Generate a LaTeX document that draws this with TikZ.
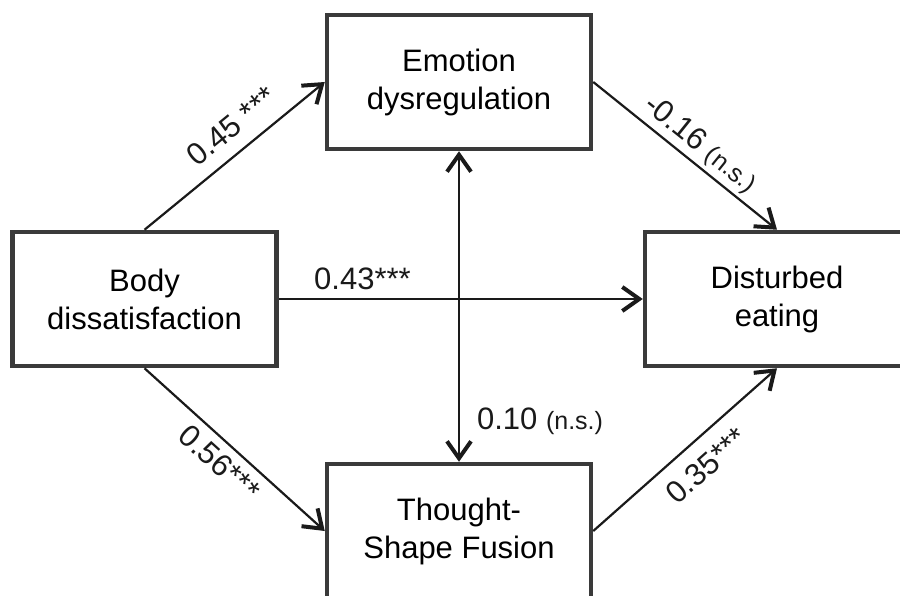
\documentclass[tikz,border=0pt]{standalone}
\usepackage{fontspec}
\setmainfont{Liberation Sans}
\usetikzlibrary{arrows.meta}
\definecolor{boxgray}{HTML}{3A3A3A}
\definecolor{arrblack}{HTML}{1A1A1A}
\newcommand\nslab{{\fontsize{25}{30}\selectfont(n.s.)}}
\begin{document}
\begin{tikzpicture}[x=1pt,y=-1pt,
  box/.style={draw=boxgray, line width=4.5pt, fill=white, minimum width=264pt, minimum height=134pt,
    align=center, font=\fontsize{31}{38}\selectfont, inner sep=0pt},
  tipv/.tip={Straight Barb[length=17pt,width=24pt,line width=4pt]},
  arr/.style={line width=2.2pt, draw=arrblack, -tipv},
  dbl/.style={line width=2.2pt, draw=arrblack, tipv-tipv},
  lab/.style={font=\fontsize{31}{38}\selectfont, inner sep=0pt, text=arrblack}]
\clip (0,0) rectangle (900,596);
\fill[white] (0,0) rectangle (900,596);

\node[box] (emo)  at (459,82)    {Emotion\\dysregulation};
\node[box] (body) at (144.5,299) {Body\\dissatisfaction};
\node[box] (dist) at (777,299)   {Disturbed\\eating};
\node[box] (tsf)  at (459,531)   {Thought-\\Shape Fusion};

\draw[arr] (body.north) -- (emo.west)
  node[lab, pos=0.57, sloped, above=13pt] {0.45 ***};
\draw[arr] (emo.east) -- (dist.north)
  node[lab, pos=0.52, sloped, above=4pt] {-0.16 \nslab};
\draw[arr] (body.south) -- (tsf.west)
  node[lab, pos=0.49, sloped, below=8pt] {0.56***};
\draw[arr] (tsf.east) -- (dist.south)
  node[lab, pos=0.52, sloped, below=14pt] {0.35***};
\draw[arr] (body.east) -- (dist.west)
  node[lab, pos=0.23, above=8pt] {0.43***};
\draw[dbl] (emo.south) -- (tsf.north)
  node[lab, pos=0.897, anchor=base west, xshift=17pt] {0.10 \nslab};
\end{tikzpicture}
\end{document}
